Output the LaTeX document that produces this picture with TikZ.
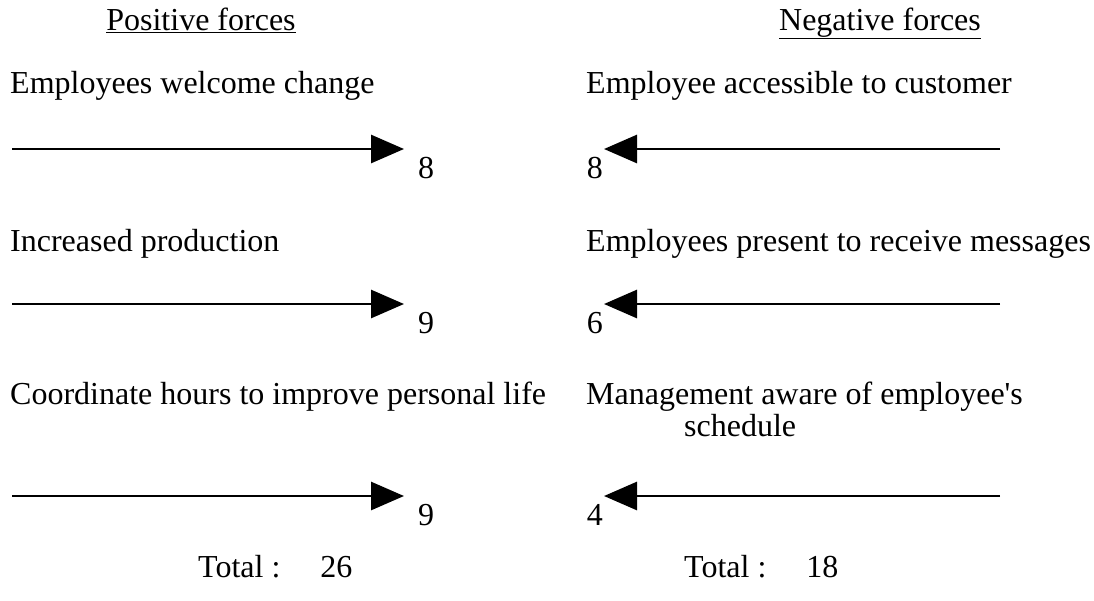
\documentclass[tikz,border=0pt]{standalone}
\usepackage{fontspec}
\setmainfont{Liberation Serif}
\usepackage{tikz}
\usetikzlibrary{arrows.meta,positioning}
\tikzset{
  head/.style={anchor=base,inner sep=0pt,font=\fontsize{32}{34}\selectfont},
  force/.style={anchor=base west,inner sep=0pt,align=left,
    font=\fontsize{32}{32}\selectfont},
  num/.style={inner sep=0pt,font=\fontsize{32}{34}\selectfont},
  total/.style={anchor=base west,inner sep=0pt,font=\fontsize{32}{34}\selectfont},
  forceflow/.style={-{Triangle[length=33pt,width=28pt]},line width=2.8pt}
}
\begin{document}
\begin{tikzpicture}[x=1pt,y=-1pt]
  \useasboundingbox (0,0) rectangle (1094,600);
  % headings
  \node[head] (pos) at (201,30) {\underline{Positive forces}};
  \node[head] (neg) at (880,30) {\underline{Negative forces}};
  % positive side
  \node[force] (p1) at (10,93) {Employees welcome change};
  \node[force] (p2) at (10,251) {Increased production};
  \node[force] (p3) at (10,404) {Coordinate hours to improve personal life};
  \foreach \i/\y in {1/149,2/304,3/496}{
    \coordinate (ps\i) at (12,\y);
    \coordinate (pt\i) at (404,\y);
    \draw[forceflow] (ps\i) -- (pt\i);
  }
  \node[num,below right=8pt and 14pt of pt1] (pn1) {8};
  \node[num,below right=8pt and 14pt of pt2] (pn2) {9};
  \node[num,below right=8pt and 14pt of pt3] (pn3) {9};
  % negative side
  \node[force] (n1) at (586,93) {Employee accessible to customer};
  \node[force] (n2) at (586,251) {Employees present to receive messages};
  \node[force] (n3) at (586,436) {Management aware of employee\textquotesingle s\\
    \hspace*{98pt}schedule};
  \foreach \i/\y in {1/149,2/304,3/496}{
    \coordinate (ns\i) at (1000,\y);
    \coordinate (nt\i) at (604,\y);
    \draw[forceflow] (ns\i) -- (nt\i);
  }
  \node[num,below left=8pt and 1pt of nt1] (nn1) {8};
  \node[num,below left=8pt and 1pt of nt2] (nn2) {6};
  \node[num,below left=8pt and 1pt of nt3] (nn3) {4};
  % totals
  \node[total] (tp) at (198,577) {Total :\hspace{40pt}26};
  \node[total] (tn) at (684,577) {Total :\hspace{40pt}18};
\end{tikzpicture}
\end{document}
